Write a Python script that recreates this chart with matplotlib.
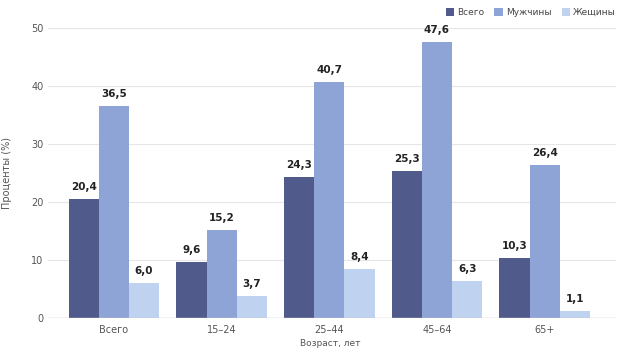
import matplotlib.pyplot as plt
import numpy as np
from matplotlib import font_manager

# Age groups and shares (%)
categories = ["Всего", "15–24", "25–44", "45–64", "65+"]
series_names = ["Всего", "Мужчины", "Жещины"]
total = [20.4, 9.6, 24.3, 25.3, 10.3]
men = [36.5, 15.2, 40.7, 47.6, 26.4]
women = [6.0, 3.7, 8.4, 6.3, 1.1]

colors = ["#505b8c", "#8fa4d6", "#bfd3f0"]

names = {f.name for f in font_manager.fontManager.ttflist}
family = "Liberation Sans Narrow" if "Liberation Sans Narrow" in names else "DejaVu Sans"
plt.rcParams["font.family"] = [family, "DejaVu Sans"]

fig = plt.figure(figsize=(6.27, 3.49), dpi=100)
ax = fig.add_axes([0.077, 0.09, 0.905, 0.83])

x = np.arange(len(categories))
w = 0.28
for i, (vals, name, c) in enumerate(zip([total, men, women], series_names, colors)):
    pos = x + (i - 1) * w
    ax.bar(pos, vals, width=w, color=c, label=name, zorder=2)
    for px, v in zip(pos, vals):
        ax.text(px, v + 1.2, f"{v:.1f}".replace(".", ","), ha="center", va="bottom",
                fontsize=7.5, fontweight="bold", color="#222222")

ax.set_xlim(-0.61, 4.66)
ax.set_ylim(0, 50)
ax.set_yticks(range(0, 51, 10))
ax.grid(axis="y", color="#e6e6e6", linewidth=0.8, zorder=0)
ax.axhline(0, color="#c8c8c8", linewidth=1, zorder=3)
for s in ax.spines.values():
    s.set_visible(False)
ax.tick_params(length=0, labelsize=7, labelcolor="#555555")
ax.tick_params(axis="x", pad=5)
ax.set_xticks(x)
ax.set_xticklabels(categories)
ax.set_ylabel("Проценты (%)", fontsize=7, color="#555555", labelpad=14)
# axis title sits right at the bottom edge
fig.text(0.527, 0.002, "Возраст, лет", ha="center", va="bottom",
         fontsize=6.5, color="#555555")

ax.legend(loc="lower right", bbox_to_anchor=(1.015, 1.01), ncol=3, frameon=False,
          fontsize=6.5, handlelength=0.9, handleheight=0.9, columnspacing=1.1,
          handletextpad=0.4, labelcolor="#444444")

fig.savefig("out.png", dpi=100)
